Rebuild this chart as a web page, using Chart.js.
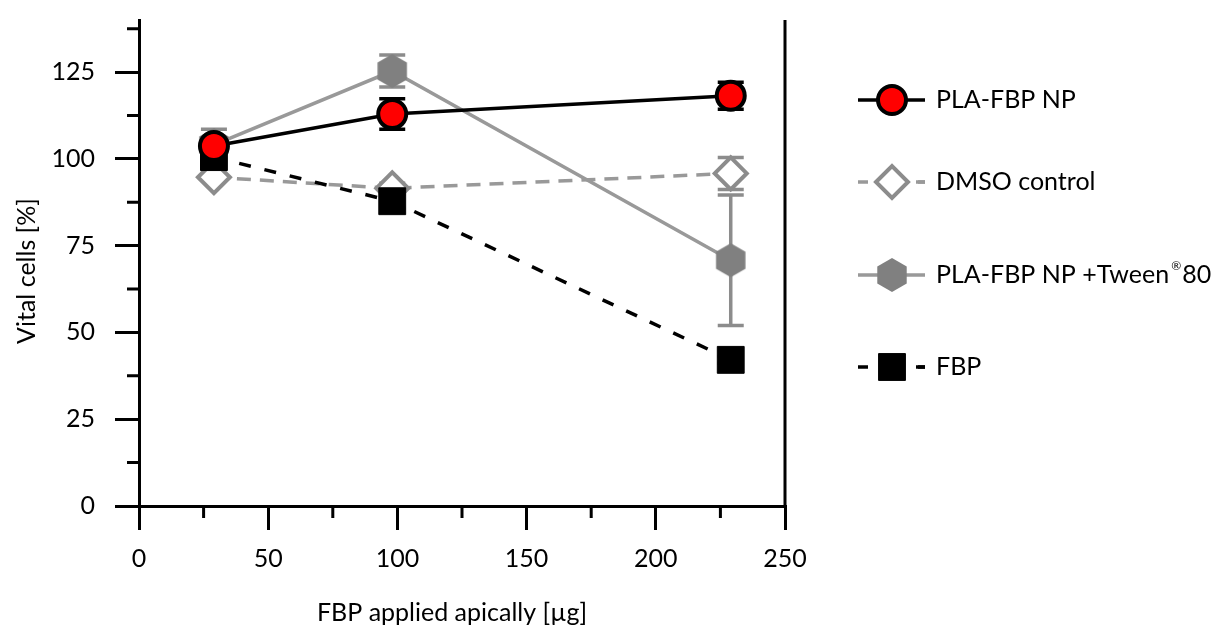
<!DOCTYPE html>
<html>
<head>
<meta charset="utf-8">
<script src="https://cdn.jsdelivr.net/npm/chart.js@4/dist/chart.umd.min.js"></script>
<style>
  html, body { margin: 0; background: #fff; }
  #wrap { width: 1227px; height: 628px; }
</style>
</head>
<body>
<div id="wrap"><canvas id="c" width="1227" height="628"></canvas></div>
<script>
"use strict";
// dose (µg FBP applied apically) and vital cells (%) per series
const doses = [29, 98, 229];
const plaNp = [103.7, 112.9, 118.2];
const plaNpErr = [2, 4.4, 3.9];
const dmso = [94.7, 91.5, 95.8];
const dmsoErr = [1, 1.5, 4.6];
const tween = [104, 125.3, 70.8];
const tweenErr = [4.5, 4.6, 18.8];
const fbp = [100.5, 87.8, 42.1];
const fbpErr = [1.5, 2, 1];
const seriesNames = ["PLA-FBP NP", "DMSO control", "PLA-FBP NP +Tween", "FBP"];
const xTickValues = [0, 50, 100, 150, 200, 250];
const xMinorValues = [25, 75, 125, 175, 225];
const yTickValues = [0, 25, 50, 75, 100, 125];
const yMinorValues = [12.5, 37.5, 62.5, 87.5, 112.5, 137.5];
const xTitle = "FBP applied apically [µg]";
const yTitle = "Vital cells [%]";

const FONT = "Lato";
const GREY = "#999999", GREY_MK = "#8c8c8c", HEX = "#808080";
const LEGEND_Y = [100, 182, 275, 367];

function hexagon(R, color) {
  const w = Math.ceil(Math.sqrt(3) * R) + 2, h = 2 * R + 2;
  const cv = document.createElement("canvas");
  cv.width = w; cv.height = h;
  const g = cv.getContext("2d");
  g.fillStyle = color;
  g.beginPath();
  for (let k = 0; k < 6; k++) {
    const a = Math.PI / 2 + k * Math.PI / 3;
    g.lineTo(w / 2 + R * Math.cos(a), h / 2 + R * Math.sin(a));
  }
  g.closePath(); g.fill();
  return cv;
}
const hexImg = hexagon(17, HEX);
const pts = (ys) => doses.map((x, i) => ({ x, y: ys[i] }));

const datasets = [
  { label: seriesNames[0], data: pts(plaNp), errs: plaNpErr, errColor: "#000", order: 0,
    borderColor: "#000", borderWidth: 3.5, pointStyle: "circle", pointRadius: 14,
    pointBackgroundColor: "#ff0000", pointBorderColor: "#000", pointBorderWidth: 4 },
  { label: seriesNames[1], data: pts(dmso), errs: dmsoErr, errColor: GREY_MK, order: 3,
    borderColor: GREY, borderWidth: 3.5, borderDash: [14, 9], pointStyle: "rectRot", pointRadius: 16,
    pointBackgroundColor: "#fff", pointBorderColor: GREY_MK, pointBorderWidth: 4 },
  { label: seriesNames[2], data: pts(tween), errs: tweenErr, errColor: GREY_MK, order: 2,
    borderColor: GREY, borderWidth: 3.5, pointStyle: hexImg, pointRadius: 17,
    pointBackgroundColor: HEX, pointBorderColor: HEX, pointBorderWidth: 0 },
  { label: seriesNames[3], data: pts(fbp), errs: fbpErr, errColor: "#000", order: 1,
    borderColor: "#000", borderWidth: 3.5, borderDash: [12, 14], pointStyle: "rect", pointRadius: 19,
    pointBackgroundColor: "#000", pointBorderColor: "#000", pointBorderWidth: 1 },
];

// error bars drawn under the markers
const errorBars = {
  id: "errorBars",
  beforeDatasetsDraw(chart) {
    const { ctx } = chart, y = chart.scales.y;
    chart.data.datasets.forEach((ds, i) => {
      const meta = chart.getDatasetMeta(i);
      ctx.save();
      ctx.strokeStyle = ds.errColor; ctx.lineWidth = 3.5; ctx.lineCap = "butt";
      meta.data.forEach((p, j) => {
        const v = ds.data[j].y, e = ds.errs[j];
        const top = y.getPixelForValue(v + e), bot = y.getPixelForValue(v - e);
        ctx.beginPath();
        ctx.moveTo(p.x, top); ctx.lineTo(p.x, bot);
        ctx.moveTo(p.x - 13, top); ctx.lineTo(p.x + 13, top);
        ctx.moveTo(p.x - 13, bot); ctx.lineTo(p.x + 13, bot);
        ctx.stroke();
      });
      ctx.restore();
    });
  },
};

// minor ticks, right frame line, axis titles and the legend
const frame = {
  id: "frame",
  afterDraw(chart) {
    const { ctx, chartArea: a, scales: { x, y } } = chart;
    ctx.save();
    ctx.strokeStyle = "#000"; ctx.lineWidth = 3;
    ctx.beginPath();
    yMinorValues.forEach((v) => { const py = y.getPixelForValue(v); ctx.moveTo(a.left - 12, py); ctx.lineTo(a.left, py); });
    xMinorValues.forEach((v) => { const px = x.getPixelForValue(v); ctx.moveTo(px, a.bottom); ctx.lineTo(px, a.bottom + 12); });
    ctx.moveTo(a.right, a.top); ctx.lineTo(a.right, a.bottom + 1.5);
    ctx.stroke();

    // axis titles (sit slightly off-centre in the original)
    ctx.fillStyle = "#000"; ctx.font = `25px ${FONT}`;
    ctx.textAlign = "center"; ctx.textBaseline = "alphabetic";
    ctx.fillText(xTitle, 452, 621);
    ctx.save();
    ctx.translate(35, 271); ctx.rotate(-Math.PI / 2);
    ctx.fillText(yTitle, 0, 0);
    ctx.restore();

    chart.data.datasets.forEach((ds, i) => {
      const ly = LEGEND_Y[i];
      ctx.save();
      ctx.strokeStyle = ds.borderColor; ctx.lineWidth = ds.borderWidth;
      ctx.setLineDash(ds.borderDash ? [10, 50] : []);
      ctx.beginPath(); ctx.moveTo(858, ly); ctx.lineTo(925, ly); ctx.stroke();
      if (ds.borderDash) { ctx.beginPath(); ctx.moveTo(916, ly); ctx.lineTo(925, ly); ctx.stroke(); }
      ctx.restore();
      ctx.save();
      ctx.fillStyle = ds.pointBackgroundColor; ctx.strokeStyle = ds.pointBorderColor;
      ctx.lineWidth = ds.pointBorderWidth;
      Chart.helpers.drawPoint(ctx, { pointStyle: ds.pointStyle, radius: ds.pointRadius, rotation: 0, borderWidth: ds.pointBorderWidth }, 892, ly);
      ctx.restore();

      ctx.fillStyle = "#000"; ctx.textBaseline = "middle"; ctx.textAlign = "left";
      ctx.font = `25px ${FONT}`;
      ctx.fillText(ds.label, 936, ly);
      if (i === 2) {
        let tx = 936 + ctx.measureText(ds.label).width + 2;
        ctx.font = `12px ${FONT}`;
        ctx.fillText("®", tx, ly - 9);
        tx += ctx.measureText("®").width + 1;
        ctx.font = `25px ${FONT}`;
        ctx.fillText("80", tx, ly);
      }
    });
    ctx.restore();
  },
};

const axisCommon = {
  grid: { drawOnChartArea: false, drawTicks: true, tickLength: 24, tickWidth: 3, lineWidth: 3, color: "#000", tickColor: "#000" },
  border: { display: true, color: "#000", width: 3 },
};

new Chart(document.getElementById("c"), {
  type: "line",
  data: { datasets },
  plugins: [errorBars, frame],
  options: {
    responsive: false, animation: false, devicePixelRatio: 1,
    layout: { padding: { left: 0, right: 442, top: 17, bottom: 0 } },
    plugins: { legend: { display: false }, tooltip: { enabled: false } },
    scales: {
      x: {
        ...axisCommon, type: "linear", min: 0, max: 250,
        afterBuildTicks: (s) => { s.ticks = xTickValues.map((value) => ({ value })); },
        afterFit: (s) => { s.height = 122; s.paddingLeft = 0; s.paddingRight = 0; },
        ticks: { color: "#000", font: { family: FONT, size: 25 }, padding: 14, maxRotation: 0, autoSkip: false },
      },
      y: {
        ...axisCommon, type: "linear", min: 0, max: 140,
        afterBuildTicks: (s) => { s.ticks = yTickValues.map((value) => ({ value })); },
        afterFit: (s) => { s.width = 139; s.paddingTop = 0; s.paddingBottom = 0; },
        ticks: { color: "#000", font: { family: FONT, size: 25 }, padding: 20 },
      },
    },
  },
});
</script>
</body>
</html>
